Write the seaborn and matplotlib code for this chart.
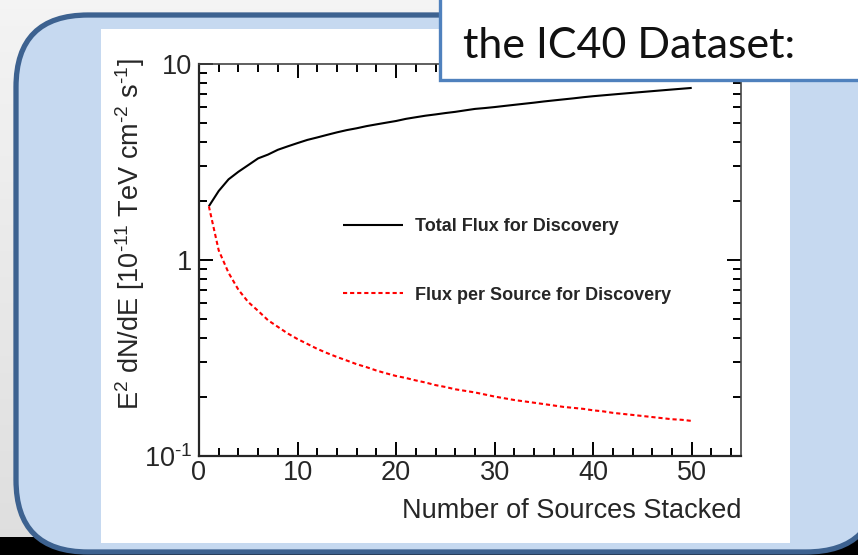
import numpy as np
import pandas as pd
import matplotlib
matplotlib.use("Agg")
import matplotlib.pyplot as plt
import seaborn as sns
from matplotlib.patches import FancyBboxPatch, Rectangle
from matplotlib.colors import LinearSegmentedColormap
from matplotlib.ticker import FixedLocator, FixedFormatter, LogLocator, NullFormatter, MultipleLocator

# ---- data -------------------------------------------------------------
n_sources = list(range(1, 51))
total_flux = [1.88, 2.25, 2.58, 2.82, 3.05, 3.30, 3.45, 3.65, 3.80, 3.95,
              4.10, 4.22, 4.35, 4.48, 4.60, 4.70, 4.82, 4.92, 5.02, 5.12,
              5.25, 5.35, 5.45, 5.53, 5.62, 5.70, 5.80, 5.90, 5.96, 6.03,
              6.11, 6.19, 6.27, 6.35, 6.44, 6.52, 6.60, 6.68, 6.77, 6.85,
              6.92, 6.99, 7.06, 7.13, 7.20, 7.27, 7.34, 7.41, 7.48, 7.55]
flux_per_source = [1.88, 1.12, 0.86, 0.705, 0.61, 0.55, 0.493, 0.456, 0.422, 0.395,
                   0.373, 0.352, 0.335, 0.320, 0.307, 0.294, 0.284, 0.273, 0.264, 0.256,
                   0.250, 0.243, 0.237, 0.230, 0.225, 0.219, 0.215, 0.211, 0.206, 0.201,
                   0.197, 0.193, 0.190, 0.187, 0.184, 0.181, 0.178, 0.176, 0.174, 0.171,
                   0.169, 0.166, 0.164, 0.162, 0.160, 0.158, 0.156, 0.154, 0.153, 0.151]
series_names = ["Total Flux for Discovery", "Flux per Source for Discovery"]
x_ticks = [0, 10, 20, 30, 40, 50]
y_ticks = [0.1, 1, 10]
y_tick_labels = [r"$10^{\text{-1}}$", "1", "10"]

df = pd.DataFrame({
    "n": n_sources * 2,
    "flux": total_flux + flux_per_source,
    "series": [series_names[0]] * len(n_sources) + [series_names[1]] * len(n_sources),
})

# ---- style -------------------------------------------------------------
sns.set_style("ticks")
plt.rcParams["font.family"] = ["Liberation Sans", "DejaVu Sans"]
plt.rcParams["mathtext.fontset"] = "custom"
plt.rcParams["mathtext.rm"] = "Liberation Sans"
plt.rcParams["mathtext.it"] = "Liberation Sans"
plt.rcParams["mathtext.bf"] = "Liberation Sans:bold"

W, H = 858, 555
fig = plt.figure(figsize=(W / 100, H / 100), dpi=100)

# slide background
bg = fig.add_axes([0, 0, 1, 1], zorder=0)
bg.set_xlim(0, W)
bg.set_ylim(H, 0)
bg.axis("off")
grey = LinearSegmentedColormap.from_list("grey", ["#f4f4f4", "#dedede"])
bg.imshow(np.linspace(0, 1, 64)[:, None], extent=[0, W, H, 0], cmap=grey, aspect="auto")
bg.add_patch(Rectangle((0, 537), W, 20, facecolor="black", edgecolor="none"))
bg.add_patch(FancyBboxPatch((16, 15), 862, 537,
                            boxstyle="round,pad=0,rounding_size=72",
                            facecolor="#c6d9f0", edgecolor="#3d6290", linewidth=3.8))
bg.add_patch(Rectangle((101, 29), 689, 514, facecolor="white", edgecolor="none"))

# ---- chart ------------------------------------------------------------
L, R, T, B = 199, 741, 64, 456
ax = fig.add_axes([L / W, (H - B) / H, (R - L) / W, (B - T) / H], zorder=2)
ax.set_facecolor("white")

sns.lineplot(data=df, x="n", y="flux", hue="series", style="series",
             palette=["black", "#ff0000"], dashes=[(1, 0), (2, 1.4)],
             linewidth=1.5, ax=ax, legend=True)

ax.set_yscale("log")
ax.set_xlim(0, 55)
ax.set_ylim(0.1, 10)

ax.xaxis.set_major_locator(FixedLocator(x_ticks))
ax.xaxis.set_minor_locator(MultipleLocator(2))
ax.yaxis.set_major_locator(FixedLocator(y_ticks))
ax.yaxis.set_major_formatter(FixedFormatter(y_tick_labels))
ax.yaxis.set_minor_locator(LogLocator(base=10, subs=np.arange(2, 10)))
ax.yaxis.set_minor_formatter(NullFormatter())

ax.tick_params(which="both", direction="in", top=True, right=True, color="black",
               labelsize=19.5, width=1.4)
ax.tick_params(which="major", length=10)
ax.tick_params(which="minor", length=5.5)
ax.tick_params(axis="x", pad=3)
ax.tick_params(axis="y", pad=5)
for s in ["left", "bottom"]:
    ax.spines[s].set_linewidth(1.6)
for s in ["right", "top"]:
    ax.spines[s].set_linewidth(1.2)
    ax.spines[s].set_color("#444444")

ax.set_xlabel("Number of Sources Stacked", fontsize=19.5, ha="right", va="center")
ax.xaxis.set_label_coords(1.0, -(511 - B) / (B - T))
ax.set_ylabel(r"E$^{2}$ dN/dE [10$^{\text{-11}}$ TeV cm$^{\text{-2}}$ s$^{\text{-1}}$]",
              fontsize=19.5)
# y label: end of the text at the top of the frame, centred on x = 130 px
ax.yaxis.label.set_ha("right")
ax.yaxis.label.set_va("center")
ax.yaxis.set_label_coords((130 - L) / (R - L), 1.015)

leg = ax.legend(frameon=False, loc="upper left",
                bbox_to_anchor=((327 - L) / (R - L), 1 - (202 - T) / (B - T)),
                handlelength=3.3, handletextpad=0.65, labelspacing=2.85,
                prop={"family": ["Liberation Sans Narrow", "Liberation Sans"],
                      "weight": "bold", "size": 13})
for h in leg.get_lines():
    h.set_linewidth(1.5)

# ---- title box --------------------------------------------------------
ov = fig.add_axes([0, 0, 1, 1], zorder=3)
ov.set_xlim(0, W)
ov.set_ylim(H, 0)
ov.axis("off")
ov.add_patch(Rectangle((440, -20), 440, 100, facecolor="white", edgecolor="#4f81bd",
                       linewidth=2.4))
ov.text(463, 58, "the IC40 Dataset:", fontsize=31, family=["Lato", "DejaVu Sans"],
        va="baseline", ha="left", color="#111111")

fig.savefig("out.png", dpi=100)
